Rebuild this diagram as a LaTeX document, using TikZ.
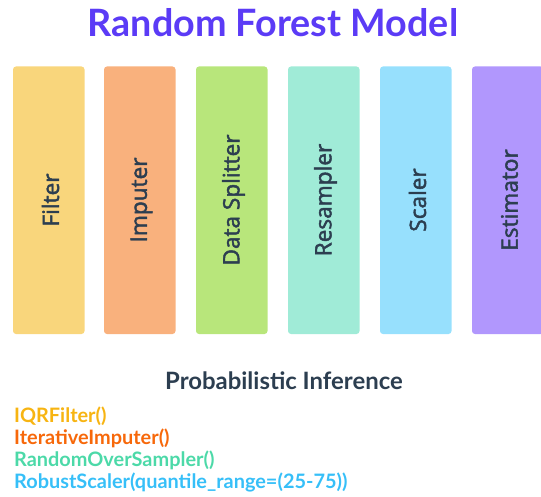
\documentclass[tikz,border=0pt]{standalone}
\usepackage{fontspec}
\setmainfont{Lato}
\newfontfamily\labelfont{Open Sans}[FakeBold=2]
\definecolor{titlec}{HTML}{5B3BF6}
\definecolor{inkc}{HTML}{2C3E50}
\definecolor{filterc}{HTML}{F9D67C}
\definecolor{imputerc}{HTML}{F9B17D}
\definecolor{splitc}{HTML}{B8E67B}
\definecolor{resamplec}{HTML}{A0EBD7}
\definecolor{scalec}{HTML}{97E0FD}
\definecolor{estimc}{HTML}{B197FD}
\definecolor{codeA}{HTML}{F7B412}
\definecolor{codeB}{HTML}{F7680A}
\definecolor{codeC}{HTML}{4CD9A8}
\definecolor{codeD}{HTML}{36BFF8}
\tikzset{
  stage/.style={fill=#1, draw=none, rounded corners=3pt},
  stagelabel/.style={rotate=90, inner sep=0pt, text=inkc,
    font=\labelfont\fontsize{22.6}{24}\selectfont},
  codeline/.style={anchor=base west, inner sep=0pt, text=#1,
    font=\bfseries\fontsize{19.9}{21}\selectfont}
}
\begin{document}
\begin{tikzpicture}[x=1pt,y=-1pt]
\useasboundingbox (0,0) rectangle (541,497);
\clip (0,0) rectangle (541,497);

% title
\node[anchor=base, inner sep=0pt, text=titlec,
  font=\bfseries\fontsize{37.7}{40}\selectfont] (title) at (273,37) {Random Forest Model};

% pipeline stages
\foreach \x/\c/\t/\n in {13/filterc/Filter/filter, 104/imputerc/Imputer/imputer,
    196/splitc/Data Splitter/splitter, 288/resamplec/Resampler/resampler,
    380/scalec/Scaler/scaler, 472/estimc/Estimator/estimator}{
  \path[stage=\c] (\x,66.5) rectangle ++(71.5,267.5);
  \node[stagelabel] (\n) at (\x+37.5,200) {\t};
}

% inference heading
\node[anchor=base west, inner sep=0pt, text=inkc,
  font=\bfseries\fontsize{23.9}{25}\selectfont] (heading) at (165,389) {Probabilistic Inference};

% pipeline steps
\node[codeline=codeA] (stepA) at (14,422.5) {IQRFilter()};
\node[codeline=codeB] (stepB) at (14,444.5) {IterativeImputer()};
\node[codeline=codeC] (stepC) at (14,466.5) {RandomOverSampler()};
\node[codeline=codeD] (stepD) at (14,488.5) {RobustScaler(quantile\_range=(25-75))};
\end{tikzpicture}
\end{document}
